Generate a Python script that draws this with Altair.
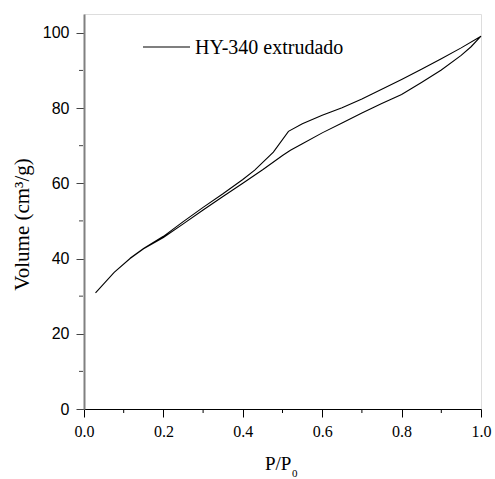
import altair as alt
import pandas as pd

# Adsorption branch (lower)
ads_p = [0.029, 0.076, 0.116, 0.15, 0.2, 0.25, 0.3, 0.35, 0.4, 0.45, 0.5, 0.52,
         0.55, 0.6, 0.65, 0.7, 0.75, 0.8, 0.85, 0.9, 0.95, 0.975, 1.0]
ads_v = [30.9, 36.3, 40.0, 42.6, 45.6, 49.2, 52.9, 56.5, 60.0, 63.6, 67.4, 68.8,
         70.5, 73.4, 76.0, 78.7, 81.2, 83.6, 86.8, 90.1, 94.0, 96.3, 99.1]
# Desorption branch (upper)
des_p = [1.0, 0.95, 0.9, 0.85, 0.8, 0.75, 0.7, 0.65, 0.6, 0.55, 0.515, 0.477,
         0.43, 0.4, 0.35, 0.3, 0.25, 0.2, 0.15, 0.116]
des_v = [99.1, 96.0, 93.1, 90.3, 87.6, 85.0, 82.4, 80.1, 78.1, 75.8, 73.8, 68.3,
         63.5, 61.0, 57.2, 53.6, 49.8, 45.9, 42.7, 40.1]

sample_name = "HY-340 extrudado"
x_title_main = "P/P"
x_title_sub = "0"
y_title = "Volume (cm³/g)"

x_major = [0.0, 0.2, 0.4, 0.6, 0.8, 1.0]
x_minor = [0.1, 0.3, 0.5, 0.7, 0.9]
y_major = [0, 20, 40, 60, 80, 100]
y_minor = [10, 30, 50, 70, 90]

rows = []
i = 0
for p, v in zip(ads_p, ads_v):
    rows.append({"p": p, "v": v, "order": i, "sample": sample_name})
    i += 1
for p, v in zip(des_p, des_v):
    rows.append({"p": p, "v": v, "order": i, "sample": sample_name})
    i += 1
df = pd.DataFrame(rows)

SERIF = "Liberation Serif"
SANS = "Liberation Sans"

xscale = alt.Scale(domain=[0, 1.0], nice=False, zero=False)
yscale = alt.Scale(domain=[0, 105], nice=False)

x_axis = alt.Axis(
    values=x_major,
    format=".1f",
    ticks=True, tickSize=8,
    labelFont=SERIF, labelFontSize=16, labelColor="black",
    labelPadding=6, labelFlush=False,
    domainColor="black", domainWidth=1,
    tickColor="black", tickWidth=1,
    grid=False, title=None,
)
y_axis = alt.Axis(
    values=y_major,
    ticks=True, tickSize=8,
    labelFont=SANS, labelFontSize=16, labelColor="black",
    labelPadding=7, labelFlush=False,
    domainColor="#808080", domainWidth=2,
    tickColor="#444444", tickWidth=1,
    grid=False,
    title=y_title,
    titleFont=SERIF, titleFontSize=21, titleFontWeight="normal", titleColor="black",
    titleAngle=-90, titleAlign="center", titleBaseline="alphabetic",
    titleX=-56, titleY=210,
)

line = alt.Chart(df).mark_line(strokeWidth=1.1, color="black").encode(
    x=alt.X("p:Q", scale=xscale, axis=x_axis),
    y=alt.Y("v:Q", scale=yscale, axis=y_axis),
    order="order:Q",
    detail="sample:N",
)

xmin_df = pd.DataFrame({"p": x_minor})
ymin_df = pd.DataFrame({"v": y_minor})
x_minor_ticks = alt.Chart(xmin_df).mark_rule(color="black", strokeWidth=1).encode(
    x=alt.X("p:Q", scale=xscale, axis=x_axis),
    y=alt.value(395), y2=alt.value(399),
)
y_minor_ticks = alt.Chart(ymin_df).mark_rule(color="#444444", strokeWidth=1).encode(
    y=alt.Y("v:Q", scale=yscale, axis=y_axis),
    x=alt.value(-5), x2=alt.value(-1),
)

leg = pd.DataFrame({"label": [sample_name]})
leg_line = alt.Chart(leg).mark_rule(color="black", strokeWidth=1.1).encode(
    x=alt.value(59), x2=alt.value(106), y=alt.value(33)
)
leg_text = alt.Chart(leg).mark_text(
    align="left", baseline="middle", font=SERIF, fontSize=20, color="black"
).encode(x=alt.value(111), y=alt.value(34), text="label:N")

xt = pd.DataFrame({"main": [x_title_main], "sub": [x_title_sub]})
xt_main = alt.Chart(xt).mark_text(
    align="left", baseline="alphabetic", font=SERIF, fontSize=19, color="black"
).encode(x=alt.value(181), y=alt.value(456), text="main:N")
xt_sub = alt.Chart(xt).mark_text(
    align="left", baseline="alphabetic", font=SERIF, fontSize=11, color="black"
).encode(x=alt.value(208), y=alt.value(463), text="sub:N")

chart = alt.layer(line, x_minor_ticks, y_minor_ticks, leg_line, leg_text, xt_main, xt_sub).properties(
    width=397, height=395,
    padding={"left": 84, "top": 14, "right": 14, "bottom": 70},
    autosize=alt.AutoSizeParams(type="none"),
).configure_view(stroke=None).configure(background="white").configure_axisX(
    labelFont=SERIF
).configure_axisY(labelFont=SANS)

chart.save("out.html", embed_options={"renderer": "svg", "actions": False})
